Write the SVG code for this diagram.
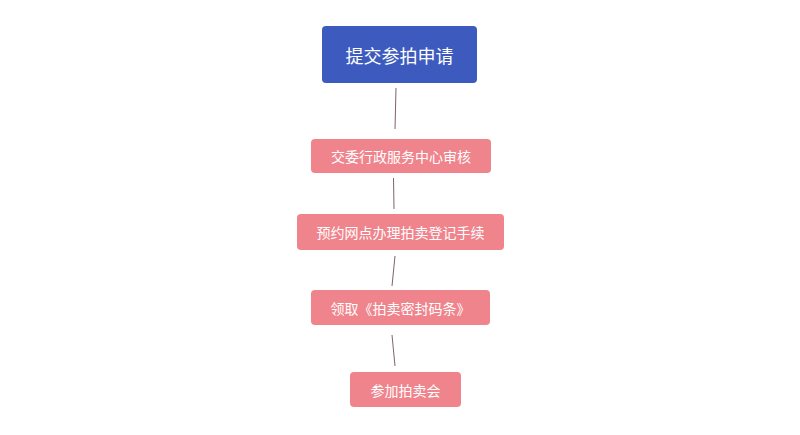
<svg xmlns="http://www.w3.org/2000/svg" width="800" height="435" viewBox="0 0 800 435">
<style>
.t{font-family:"Noto Sans CJK SC","Liberation Sans",sans-serif;fill:#fff;text-anchor:middle;dominant-baseline:central}
.main{fill:#3d5bbe}
.step{fill:#f0848c}
.c{stroke:#7d6270;stroke-width:1;fill:none}
</style>
<rect width="800" height="435" fill="#fff"/>
<g id="connectors">
<line class="c" x1="396" y1="88" x2="395" y2="129"/>
<line class="c" x1="393.5" y1="178" x2="394" y2="209"/>
<line class="c" x1="395" y1="256" x2="392" y2="286"/>
<line class="c" x1="392" y1="335" x2="395" y2="366"/>
</g>
<g id="n1"><rect class="main" x="322" y="26" width="155" height="57" rx="4"/><text class="t" x="399.5" y="54.5" font-size="18">提交参拍申请</text></g>
<g id="n2"><rect class="step" x="311" y="139" width="180" height="34" rx="4"/><text class="t" x="401" y="156" font-size="14">交委行政服务中心审核</text></g>
<g id="n3"><rect class="step" x="297" y="214" width="207" height="36" rx="4"/><text class="t" x="400.5" y="232" font-size="14">预约网点办理拍卖登记手续</text></g>
<g id="n4"><rect class="step" x="311" y="290" width="179" height="35" rx="4"/><text class="t" x="400.5" y="307.5" font-size="14">领取《拍卖密封码条》</text></g>
<g id="n5"><rect class="step" x="350" y="372" width="111" height="35" rx="4"/><text class="t" x="405.5" y="389.5" font-size="14">参加拍卖会</text></g>
</svg>
